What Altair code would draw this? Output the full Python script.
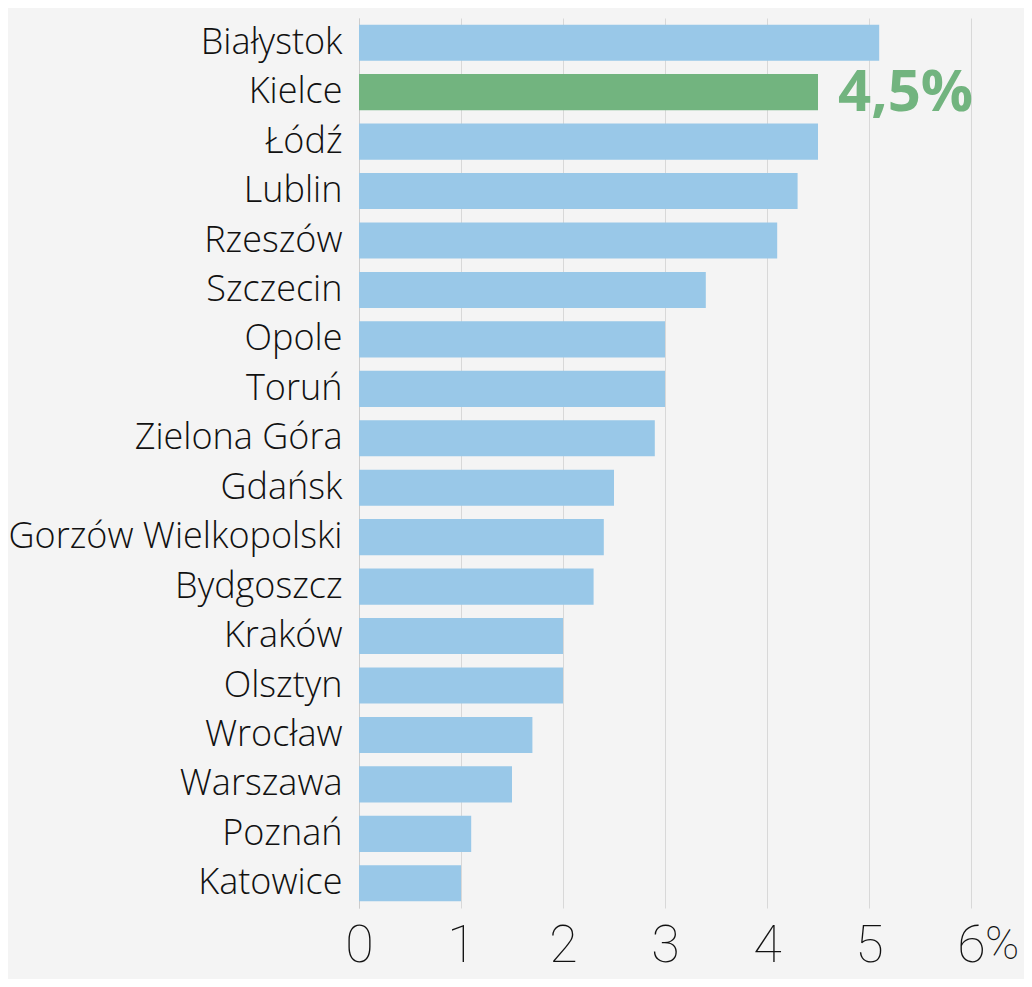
import altair as alt
import pandas as pd

cities = ["Białystok", "Kielce", "Łódź", "Lublin", "Rzeszów", "Szczecin", "Opole",
          "Toruń", "Zielona Góra", "Gdańsk", "Gorzów Wielkopolski", "Bydgoszcz",
          "Kraków", "Olsztyn", "Wrocław", "Warszawa", "Poznań", "Katowice"]
values = [5.1, 4.5, 4.5, 4.3, 4.1, 3.4, 3.0, 3.0, 2.9, 2.5, 2.4, 2.3, 2.0, 2.0, 1.7, 1.5, 1.1, 1.0]
highlight = "Kielce"
tick_values = [0, 1, 2, 3, 4, 5, 6]

BLUE = "#99c8e8"
GREEN = "#72b47f"
BG = "#f4f4f4"
FONT = "Open Sans"
TICKFONT = "Roboto"

PW, PH = 612, 890

df = pd.DataFrame({"city": cities, "value": values})

base = alt.Chart(df)

bars = base.mark_bar().encode(
    y=alt.Y("city:N", sort=cities,
            scale=alt.Scale(paddingInner=0.27, paddingOuter=0.135),
            axis=alt.Axis(title=None, labelFont=FONT, labelFontSize=36, labelFontWeight=300,
                          labelColor="#111111", labelPadding=17, labelLimit=0, ticks=False,
                          domainColor="#cccccc", domainWidth=1, grid=False)),
    x=alt.X("value:Q", scale=alt.Scale(domain=[0, 6], nice=False),
            axis=alt.Axis(title=None, values=tick_values, format="d", grid=True,
                          gridColor="#d8d8d8", domain=False, ticks=False, labelFont=TICKFONT,
                          labelFontSize=52, labelFontWeight=100, labelColor="#111111",
                          labelPadding=12, labelFlush=False)),
    color=alt.condition(alt.datum.city == highlight, alt.value(GREEN), alt.value(BLUE)),
)

annot = base.transform_filter(alt.datum.city == highlight).transform_calculate(
    label="replace(format(datum.value, '.1f'), '.', ',') + '%'"
).mark_text(align="left", baseline="middle", dx=20, dy=2, font=FONT, fontSize=58,
            fontWeight="bold", color=GREEN).encode(
    x="value:Q", y=alt.Y("city:N", sort=cities), text="label:N")

pct_df = pd.DataFrame({"v": [tick_values[-1]], "t": ["%"]})
pct = alt.Chart(pct_df).mark_text(align="left", baseline="top", dx=14, dy=3, font=TICKFONT,
                                  fontSize=46, fontWeight=100, color="#111111").encode(
    x="v:Q", y=alt.value(PH + 12), text="t:N")

chart = alt.layer(bars, annot, pct).properties(
    width=PW, height=PH,
    background=BG,
    padding={"left": 351, "top": 10, "right": 1016 - 351 - PW, "bottom": 971 - 10 - PH},
    autosize=alt.AutoSizeParams(type="none"),
).configure_view(stroke=None)

chart.save("out.html", embed_options={"renderer": "svg", "actions": False})
